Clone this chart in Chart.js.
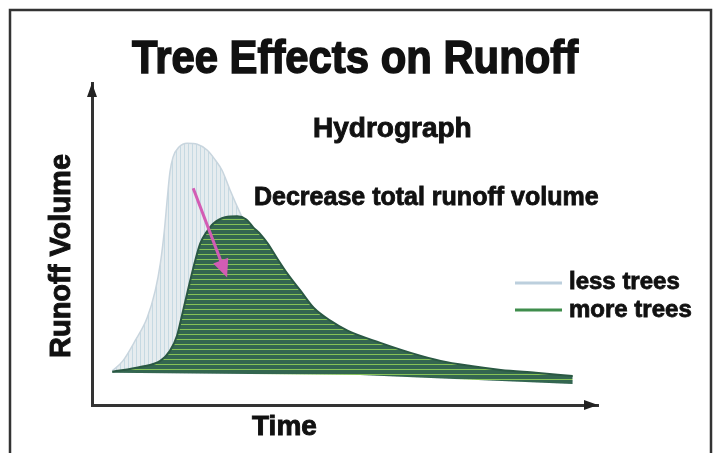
<!DOCTYPE html>
<html>
<head>
<meta charset="utf-8">
<title>Tree Effects on Runoff</title>
<script src="https://cdn.jsdelivr.net/npm/chart.js@4.4.1/dist/chart.umd.min.js"></script>
<style>
    html, body { margin: 0; padding: 0; background: #fff; }
    #wrap { width: 715px; height: 453px; }
</style>
</head>
<body>
<div id="wrap"><canvas id="runoff-chart" width="715" height="453"></canvas></div>
<script>
// Hydrograph values (time and runoff both on a 0-100 scale)
const lessTime   = [4, 6.1, 8.5, 10.9, 12.5, 13.5, 14.3, 14.9, 15.4, 16, 17.2, 18.8, 20.8, 22.8, 24.4, 25.7, 27.3, 29.3, 32.3, 36.2, 41.2, 49.1, 61, 76.8, 95];
const lessRunoff = [10.6, 13.7, 19.9, 27.1, 35.5, 43.9, 54.2, 64.5, 72.3, 76.9, 80.1, 81.3, 81, 79.1, 76, 72.9, 66.7, 59.5, 49.5, 38.6, 29.3, 19.9, 14.3, 10.6, 7.5];

const moreTime   = [4, 9.5, 13.5, 15.4, 16.8, 18, 19.4, 20.4, 21.4, 22.6, 24, 26.3, 28.7, 30.5, 31.9, 33.3, 34.7, 36.6, 38.6, 41.2, 43.8, 47.1, 50.5, 57, 63, 68.9, 74.9, 80.8, 87.7, 95];
const moreRunoff = [10.3, 11.8, 13.7, 16.8, 21.5, 29.3, 38.6, 44.9, 50.2, 53.6, 56.4, 58.3, 58.6, 57.6, 55.1, 53, 50.2, 45.5, 40.8, 35.5, 30.2, 26.2, 23.1, 19.3, 16.2, 13.7, 12.1, 10.9, 10, 9];

// bottom edge of both shaded areas
const baseTime   = [4, 53, 95];
const baseRunoff = [10, 9.3, 6.5];

// pink "decrease" arrow, start -> tip
const arrowTime   = [20, 26.7];
const arrowRunoff = [67.3, 39.6];

const seriesLabels = ['less trees', 'more trees'];

function toPoints(xs, ys) {
    return xs.map((x, i) => ({ x: x, y: ys[i] }));
}

// hatched fills
function makePattern(w, h, bg, fg, drawLines) {
    const c = document.createElement('canvas');
    c.width = w; c.height = h;
    const g = c.getContext('2d');
    g.fillStyle = bg;
    g.fillRect(0, 0, w, h);
    g.fillStyle = fg;
    drawLines(g);
    return document.getElementById('runoff-chart').getContext('2d').createPattern(c, 'repeat');
}

const lessFill = makePattern(4, 4, '#e6ecef', '#c6d9e2', g => g.fillRect(0, 0, 1, 4));
const moreFill = makePattern(4, 5, '#346650', '#86c257', g => g.fillRect(0, 4, 4, 1));

const FONT = '"Liberation Sans", Arial, sans-serif';

function drawText(ctx, text, x, y, size, align, scaleX) {
    ctx.save();
    ctx.font = 'bold ' + size + 'px ' + FONT;
    ctx.fillStyle = '#111';
    ctx.strokeStyle = '#111';
    ctx.lineWidth = size / 30;
    ctx.textAlign = align || 'left';
    ctx.textBaseline = 'alphabetic';
    ctx.translate(x, y);
    ctx.scale(scaleX || 1, 1);
    ctx.fillText(text, 0, 0);
    ctx.strokeText(text, 0, 0);
    ctx.restore();
}

function arrowHead(ctx, tipX, tipY, angle, len, half) {
    ctx.save();
    ctx.translate(tipX, tipY);
    ctx.rotate(angle);
    ctx.beginPath();
    ctx.moveTo(0, 0);
    ctx.lineTo(-len, -half);
    ctx.lineTo(-len, half);
    ctx.closePath();
    ctx.fill();
    ctx.restore();
}

const decor = {
    id: 'decor',
    beforeDraw(chart) {
        const ctx = chart.ctx;
        ctx.save();
        ctx.fillStyle = '#fff';
        ctx.fillRect(0, 0, chart.width, chart.height);
        // frame, open at the bottom
        ctx.strokeStyle = '#333';
        ctx.lineWidth = 2.5;
        ctx.beginPath();
        ctx.moveTo(10, 453);
        ctx.lineTo(10, 10);
        ctx.lineTo(711, 10);
        ctx.lineTo(711, 453);
        ctx.stroke();
        ctx.restore();
    },
    afterDatasetsDraw(chart) {
        const ctx = chart.ctx;
        const x = chart.scales.x, y = chart.scales.y;
        const area = chart.chartArea;
        ctx.save();
        // axis arrow heads
        ctx.fillStyle = '#222';
        arrowHead(ctx, area.left, area.top, -Math.PI / 2, 14, 5);
        arrowHead(ctx, area.right, area.bottom, 0, 14, 5);

        // decrease arrow
        const x0 = x.getPixelForValue(arrowTime[0]), y0 = y.getPixelForValue(arrowRunoff[0]);
        const x1 = x.getPixelForValue(arrowTime[1]), y1 = y.getPixelForValue(arrowRunoff[1]);
        const ang = Math.atan2(y1 - y0, x1 - x0);
        ctx.strokeStyle = '#d35cb4';
        ctx.fillStyle = '#d35cb4';
        ctx.lineWidth = 3;
        ctx.beginPath();
        ctx.moveTo(x0, y0);
        ctx.lineTo(x1 - 14 * Math.cos(ang), y1 - 14 * Math.sin(ang));
        ctx.stroke();
        arrowHead(ctx, x1, y1, ang, 18, 8);
        ctx.restore();
    },
    afterDraw(chart) {
        const ctx = chart.ctx;
        drawText(ctx, 'Tree Effects on Runoff', 355, 73, 47, 'center', 0.89);
        drawText(ctx, 'Hydrograph', 313, 137, 28, 'left');
        drawText(ctx, 'Decrease total runoff volume', 254, 205, 25, 'left');
        drawText(ctx, 'Time', 252, 435, 28, 'left');

        ctx.save();
        ctx.translate(70, 256);
        ctx.rotate(-Math.PI / 2);
        drawText(ctx, 'Runoff Volume', 0, 0, 29, 'center');
        ctx.restore();

        // legend
        const rows = [{ swatchY: 283, textY: 289 }, { swatchY: 310, textY: 317 }];
        chart.data.datasets.filter(d => d.label).forEach((d, i) => {
            ctx.save();
            ctx.strokeStyle = d.legendColor;
            ctx.lineWidth = 3;
            ctx.beginPath();
            ctx.moveTo(515, rows[i].swatchY);
            ctx.lineTo(562, rows[i].swatchY);
            ctx.stroke();
            ctx.restore();
            drawText(ctx, d.label, 569, rows[i].textY, 24, 'left');
        });
    }
};

new Chart(document.getElementById('runoff-chart'), {
    type: 'line',
    data: {
        datasets: [
            {
                data: toPoints(baseTime, baseRunoff),
                borderWidth: 0,
                pointRadius: 0,
                fill: false,
                order: 3
            },
            {
                label: seriesLabels[0],
                data: toPoints(lessTime, lessRunoff),
                borderColor: '#c8d5de',
                borderWidth: 1.5,
                backgroundColor: lessFill,
                legendColor: '#bccfdd',
                pointRadius: 0,
                cubicInterpolationMode: 'monotone',
                fill: 0,
                order: 2
            },
            {
                label: seriesLabels[1],
                data: toPoints(moreTime, moreRunoff),
                borderColor: '#2a5843',
                borderWidth: 2,
                backgroundColor: moreFill,
                legendColor: '#3f8d4c',
                pointRadius: 0,
                cubicInterpolationMode: 'monotone',
                fill: 0,
                order: 1
            }
        ]
    },
    options: {
        responsive: false,
        animation: false,
        layout: { padding: { left: 84, right: 117, top: 83, bottom: 40 } },
        plugins: {
            legend: { display: false },
            tooltip: { enabled: false },
            title: { display: false }
        },
        scales: {
            x: {
                type: 'linear', min: 0, max: 100,
                grid: { display: false },
                ticks: { display: false },
                border: { display: true, color: '#333', width: 3 }
            },
            y: {
                type: 'linear', min: 0, max: 100,
                grid: { display: false },
                ticks: { display: false },
                border: { display: true, color: '#333', width: 3 }
            }
        }
    },
    plugins: [decor]
});
</script>
</body>
</html>
